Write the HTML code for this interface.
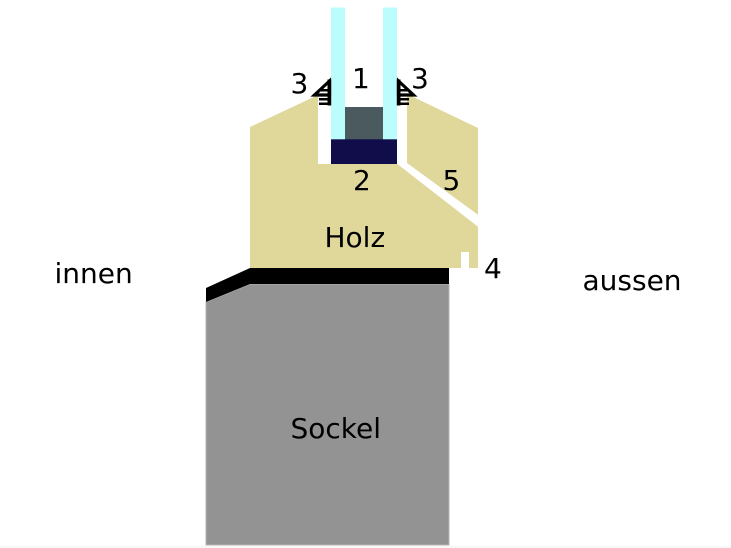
<!DOCTYPE html>
<html><head><meta charset="utf-8"><style>
html,body{margin:0;padding:0;background:#fff;}
svg{display:block;}
text{font-family:"DejaVu Sans","Liberation Sans",sans-serif;font-size:28px;fill:#000;}
</style></head><body>
<svg width="731" height="548" viewBox="0 0 731 548" xmlns="http://www.w3.org/2000/svg">
<rect x="0" y="0" width="731" height="548" fill="#fff"/>
<line x1="0" y1="547" x2="731" y2="547" stroke="#f0f0f0" stroke-width="1"/>
<!-- Sockel -->
<polygon points="206,302 250,284 449,284 449,545 206,545" fill="#939393" stroke="#b5b5b5" stroke-width="1"/>
<!-- black bar -->
<polygon points="250,268 449,268 449,284 250,284 206,302 206,288" fill="#000"/>
<!-- wood -->
<polygon points="250,127 318,95 318,164 407,164 407,94 478,128 478,268 250,268" fill="#dfd89a"/>
<!-- diagonal groove -->
<polygon points="396,163 407,163 479,215.5 479,227.5" fill="#fff"/>
<!-- notch -->
<rect x="461" y="252" width="8" height="17" fill="#fff"/>
<!-- glass -->
<rect x="331" y="7.5" width="14" height="132" fill="#bbfdfd"/>
<rect x="383" y="7.5" width="14" height="132" fill="#bbfdfd"/>
<!-- spacer -->
<rect x="345" y="107" width="38" height="32.5" fill="#4a5a5f"/>
<!-- setting block -->
<rect x="331" y="139.3" width="66" height="24.7" fill="#100d4a"/>
<!-- left seal -->
<g>
<path d="M329.5,81 L314.5,95 L329.5,95 Z" fill="#fff" stroke="#000" stroke-width="3.2" stroke-linejoin="miter"/>
<rect x="327.5" y="79.5" width="3.7" height="26" fill="#000"/>
<rect x="321" y="89" width="10" height="2.5" fill="#000"/>
<rect x="319" y="98" width="12" height="2.5" fill="#000"/>
<rect x="319" y="102.5" width="12" height="2.5" fill="#000"/>
</g>
<!-- right seal (mirror) -->
<g transform="translate(728,0) scale(-1,1)">
<path d="M329.5,81 L314.5,95 L329.5,95 Z" fill="#fff" stroke="#000" stroke-width="3.2" stroke-linejoin="miter"/>
<rect x="327.5" y="79.5" width="3.7" height="26" fill="#000"/>
<rect x="321" y="89" width="10" height="2.5" fill="#000"/>
<rect x="319" y="98" width="12" height="2.5" fill="#000"/>
<rect x="319" y="102.5" width="12" height="2.5" fill="#000"/>
</g>
<!-- labels -->
<text x="54.5" y="283">innen</text>
<text x="582.5" y="290">aussen</text>
<text x="324.5" y="247">Holz</text>
<text x="290.5" y="438">Sockel</text>
<text x="352" y="88">1</text>
<text x="290.5" y="93">3</text>
<text x="411" y="88">3</text>
<text x="353" y="190">2</text>
<text x="442.5" y="190">5</text>
<text x="484" y="278">4</text>
</svg>
</body></html>
